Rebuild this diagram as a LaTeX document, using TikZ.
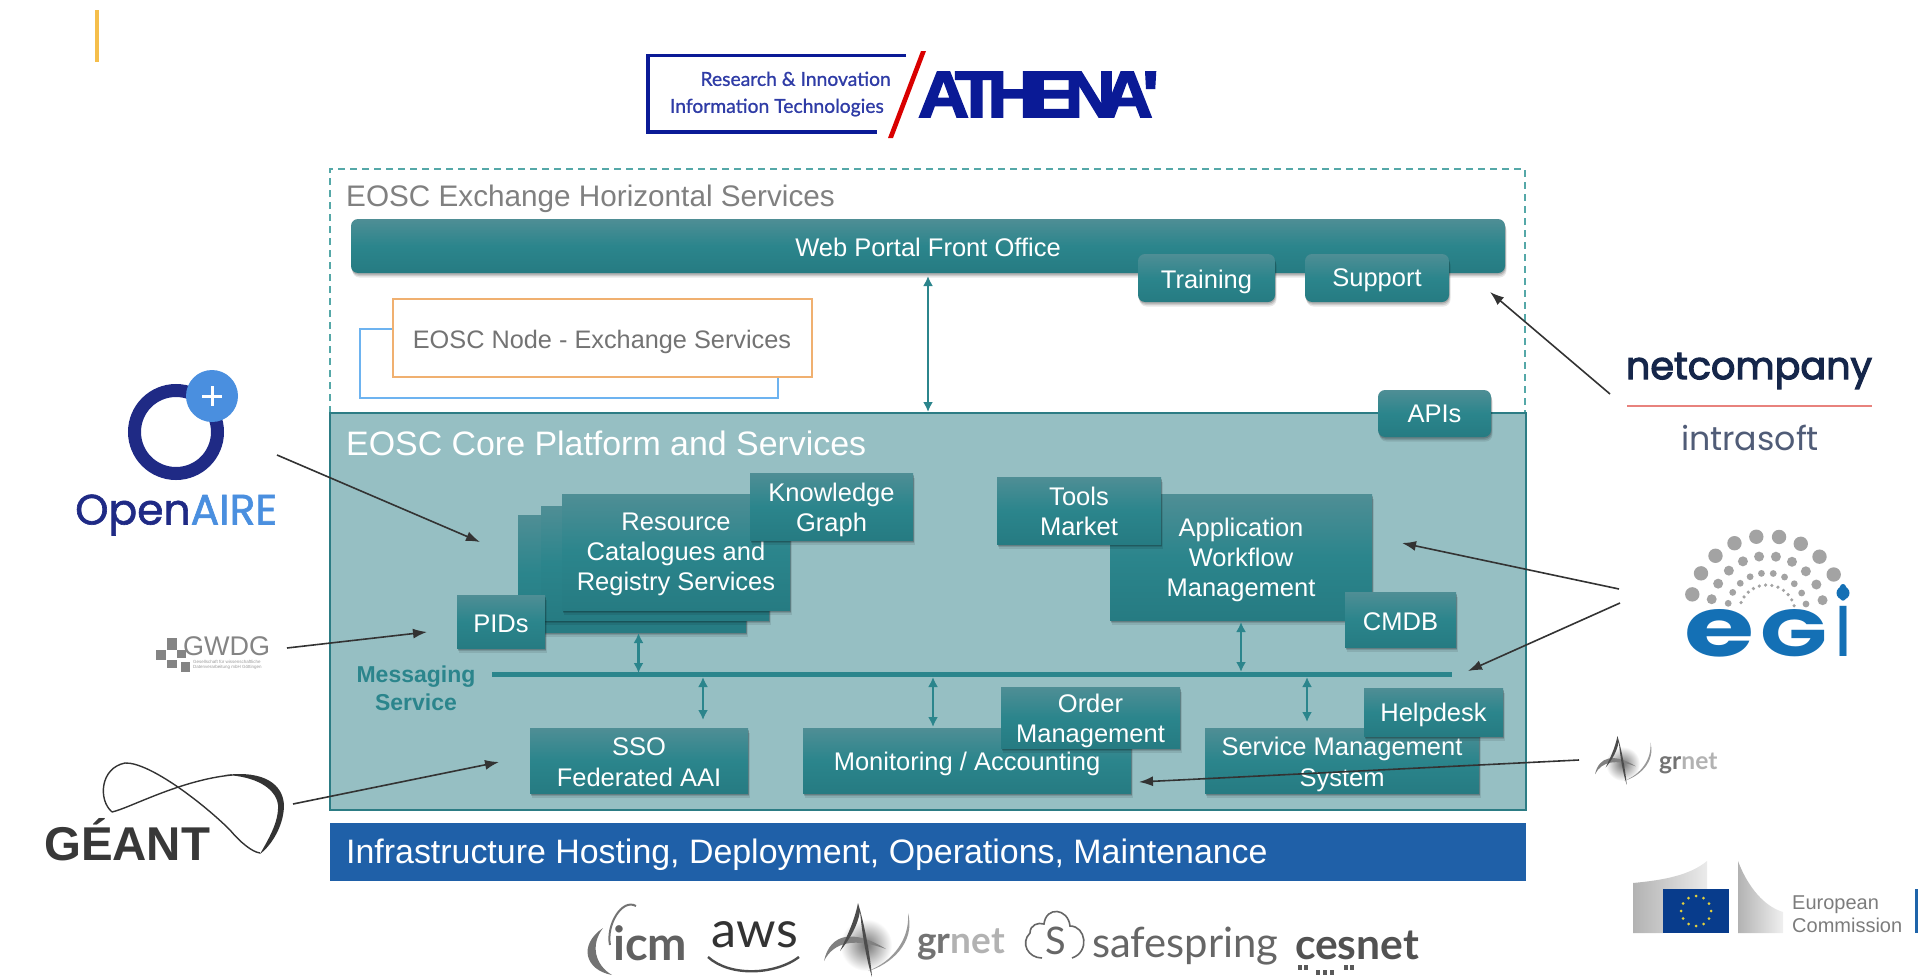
\documentclass[tikz,border=0pt]{standalone}
\usepackage{fontspec}
\usepackage{graphicx}
\setmainfont{Liberation Sans}
\newfontfamily\pop{Poppins}
\newfontfamily\popm[FakeBold=1.5]{Poppins}
\newfontfamily\popn[FakeBold=3]{Poppins}
\newfontfamily\lat{Lato}
\newfontfamily\latm[FakeBold=1]{Lato}
\newfontfamily\athf[FakeBold=2.5]{Liberation Sans Bold}
\usetikzlibrary{arrows.meta,calc}
\definecolor{tealtop}{HTML}{4F8E95}
\definecolor{tealmid}{HTML}{2B858C}
\definecolor{tealbot}{HTML}{267B82}
\definecolor{coreblue}{HTML}{96BFC3}
\definecolor{coreedge}{HTML}{2C7C84}
\definecolor{dashteal}{HTML}{55A8A8}
\definecolor{infrablue}{HTML}{1F60A8}
\definecolor{athblue}{HTML}{0A1A96}
\definecolor{oaNavy}{HTML}{1F2A85}
\definecolor{oaBlue}{HTML}{4A8FDF}
\definecolor{egiBlue}{HTML}{1470B5}
\definecolor{egiGrey}{HTML}{A3A3A3}
\definecolor{ncNavy}{HTML}{15264A}
\definecolor{logoGrey}{HTML}{6E6E6E}
\tikzset{
  softshadow/.style={
    preaction={fill=black,opacity=.09,transform canvas={xshift=1.5pt,yshift=-4.5pt}},
    preaction={fill=black,opacity=.12,transform canvas={xshift=1pt,yshift=-3pt}},
    preaction={fill=black,opacity=.16,transform canvas={xshift=.5pt,yshift=-1.5pt}}},
  tealbox/.style={rectangle,inner sep=0pt,softshadow,
    top color=tealtop,bottom color=tealbot,middle color=tealmid},
  roundbox/.style={tealbox,rounded corners=7pt},
  boxtext/.style={inner sep=0pt,align=center,text=white,font=\fontsize{25.5}{30}\selectfont},
  teallink/.style={draw=tealmid,line width=2.2pt,{Latex[length=10pt,width=10pt]}-{Latex[length=10pt,width=10pt]}},
  partner/.style={draw=black!80,line width=1.6pt,-{Latex[length=14pt,width=10pt]}},
  label/.style={inner sep=0pt,anchor=center,align=center},
}
% plain box by corners: name, x1, y1, x2, y2, style
\newcommand{\bxe}[6]{\node[#6,minimum width={(#4-#2)*1pt},minimum height={(#5-#3)*1pt}] (#1) at ({(#2+#4)/2},{(#3+#5)/2}) {};}
% box with text: [text drop], name, x1, y1, x2, y2, style, text
\newcommand{\bx}[8][2.5]{\bxe{#2}{#3}{#4}{#5}{#6}{#7}\node[boxtext] (#2t) at ({(#3+#5)/2},{(#4+#6)/2+#1}) {#8};}
\tikzset{pics/grnetmark/.style={code={
  \shade[inner color=black!55,outer color=white] (42,42) circle (26);
  \fill[black!50] (0,58) .. controls (6,30) and (30,26) .. (62,46) .. controls (32,35) and (10,38) .. (0,58) -- cycle;
  \fill[black!70] (34,0) .. controls (30,20) and (22,35) .. (16,48) .. controls (26,36) and (34,22) .. (36,8) .. controls (38,30) and (42,55) .. (48,74) .. controls (46,50) and (40,20) .. (34,0) -- cycle;
  \fill[black!40] (84,10) .. controls (86,35) and (70,58) .. (44,68) .. controls (66,62) and (92,40) .. (84,10) -- cycle;
}}}
\begin{document}
\begin{tikzpicture}[x=1pt,y=-1pt]
\useasboundingbox (0,0) rectangle (1931,977);
% corner accent
\fill[color={rgb,255:red,245;green,190;blue,75}] (94.5,10) rectangle (98.5,62);
% ATHENA logo
\draw[athblue,line width=3.5pt] (906,55.5) -- (648,55.5) -- (648,132) -- (877,132);
\fill[red!85!black] (921,51) -- (926,51) -- (893,138) -- (888,138) -- cycle;
\node[label,text=athblue] (athena) at (1038.5,94.5) {\resizebox{241pt}{45pt}{\athf A\kern-2ptT\kern-1.5ptH\kern-1.5ptE\kern-1.5ptN\kern-2ptA\kern-1.5pt'}};
\node[label,text=athblue!85,font=\fontsize{19.3}{26}\selectfont\latm,align=right,anchor=east] (athtext) at (891,94) {Research \& Innovation\\[1pt]Information Technologies\kern 7pt};
% Exchange services
\draw[dashteal,line width=1.6pt,dash pattern=on 7pt off 5pt] (330,413) -- (330,169) -- (1525,169) -- (1525,413);
\node[label,anchor=west,text=black!50,font=\fontsize{29.7}{34}\selectfont] (extitle) at (346,199) {EOSC Exchange Horizontal Services};
\bx[1]{web}{351}{219}{1505}{273}{roundbox}{Web Portal Front Office}
\bx[3.7]{training}{1138}{254}{1275}{302}{roundbox}{Training}
\bx[2.5]{support}{1305}{254}{1449}{302}{roundbox}{Support}
\draw[draw={rgb,255:red,109;green,179;blue,240},line width=1.8pt,fill=white] (360,329) rectangle (778,398);
\node[draw={rgb,255:red,240;green,176;blue,112},line width=1.8pt,fill=white,minimum width=419pt,minimum height=78pt,inner sep=0pt] (node) at (602.5,338) {};
\node[label,text=black!55,font=\fontsize{25.3}{30}\selectfont] (nodet) at (602,342) {EOSC Node - Exchange Services};
% Core platform
\bxe{core}{330}{413}{1526}{810}{draw=coreedge,line width=1.6pt,fill=coreblue,inner sep=0pt}
\node[label,anchor=west,text=white,font=\fontsize{33.9}{38}\selectfont] (coretitle) at (346,443) {EOSC Core Platform and Services};
\bx[0]{apis}{1378}{390}{1491}{437}{roundbox}{APIs}
% Resource stack
\bxe{resC}{518}{515}{746}{632}{tealbox}
\bxe{resB}{541}{506}{769}{620}{tealbox}
\bx[2.5]{res}{562}{494}{790}{610}{tealbox}{Resource\\Catalogues and\\Registry Services}
\bx[3]{kg}{750}{473}{913}{540}{tealbox}{Knowledge\\Graph}
\bx[2.5]{pids}{457}{595}{545}{648}{tealbox}{PIDs}
\bx[3]{awm}{1110}{494}{1372}{620}{tealbox}{Application\\Workflow\\Management}
\bx[1]{tools}{997}{477}{1161}{544}{tealbox}{Tools\\Market}
\bx[2.5]{cmdb}{1345}{592}{1456}{647}{tealbox}{CMDB}
\bx[1.5]{sso}{530}{728}{748}{793}{tealbox}{SSO\\[1pt]Federated AAI}
\bx[3.7]{mon}{803}{728}{1131}{793}{tealbox}{Monitoring / Accounting}
\bx[3.7]{order}{1001}{687}{1180}{748}{tealbox}{Order\\Management}
\bx[4]{sms}{1205}{728}{1479}{793}{tealbox}{Service Management\\[1pt]System}
\bx[3]{help}{1364}{688}{1503}{736}{tealbox}{Helpdesk}
% Messaging bus
\node[label,text=tealmid,font=\bfseries\fontsize{23}{28}\selectfont] (msg) at (416,688) {Messaging\\Service};
\coordinate (busL) at (492,674);
\coordinate (busR) at (1452,674);
\draw[tealmid,line width=5pt] (busL) -- (busR);
% Teal double arrows
\coordinate (a1t) at (928,276); \coordinate (a1b) at (928,412);
\draw[teallink] (a1t) -- (a1b);
\coordinate (a2t) at (638.5,633); \coordinate (a2b) at (638.5,673);
\draw[teallink] (a2t) -- (a2b);
\coordinate (a3t) at (703,677); \coordinate (a3b) at (703,720);
\draw[teallink] (a3t) -- (a3b);
\coordinate (a4t) at (933,677); \coordinate (a4b) at (933,727);
\draw[teallink] (a4t) -- (a4b);
\coordinate (a5t) at (1241,622); \coordinate (a5b) at (1241,672);
\draw[teallink] (a5t) -- (a5b);
\coordinate (a6t) at (1307,677); \coordinate (a6b) at (1307,722);
\draw[teallink] (a6t) -- (a6b);
% Infrastructure bar
\bxe{infra}{330}{823}{1526}{881}{rectangle,inner sep=0pt,fill=infrablue}
\node[label,anchor=west,text=white,font=\fontsize{33.9}{38}\selectfont] (infratext) at (346,855) {Infrastructure Hosting, Deployment, Operations, Maintenance};
% OpenAIRE logo
\coordinate (oaC) at (176,432);
\draw[oaNavy,line width=13pt] (oaC) circle (41.5);
\fill[oaBlue] (212,396) circle (26);
\fill[white] (202,394.5) rectangle (222,397.5);
\fill[white] (210.5,386) rectangle (213.5,406);
\node[label,anchor=west] (openaire) at (75,515) {\resizebox{202pt}{!}{\popm\textcolor{oaNavy}{Open}\textcolor{oaBlue}{AIRE}}};
% GWDG logo
\begin{scope}[logoGrey!85]
\fill (156,650) rectangle (166,660);
\fill (167,638) rectangle (177,650);
\fill (177,650) rectangle (186,658);
\fill (167,660) rectangle (177,668);
\fill (181,662) rectangle (190,672);
\end{scope}
\node[label,anchor=west,text=logoGrey!85,font=\fontsize{27}{30}\selectfont] (gwdg) at (183,646) {GWDG};
\node[label,anchor=west,text=black!40,font=\fontsize{4.5}{5.5}\selectfont,align=left] (gwdgsub) at (193,665) {Gesellschaft für wissenschaftliche\\Datenverarbeitung mbH Göttingen};
% GEANT logo
\draw[black!80,line width=1.4pt] (112,812) .. controls (98,800) and (100,768) .. (125,763) .. controls (150,762) and (205,805) .. (230,830) .. controls (240,842) and (252,852) .. (260,853);
\draw[black!80,line width=1.4pt] (112,812) .. controls (130,808) and (180,780) .. (232,775);
\fill[black!80] (225,775) .. controls (265,770) and (283,785) .. (284,805) .. controls (284,825) and (272,845) .. (260,854) .. controls (268,840) and (279,822) .. (278,805) .. controls (276,788) and (255,776) .. (225,775) -- cycle;
\node[label,anchor=west,text=black!78,font=\bfseries] (geant) at (44,840) {\resizebox{166pt}{!}{G\'EANT}};
% netcompany / intrasoft
\node[label,text=ncNavy,font=\popn] (netc) at (1749,371) {\resizebox{246pt}{!}{netcompany}};
\draw[color={rgb,255:red,232;green,130;blue,125},line width=1.6pt] (1627,406) -- (1872,406);
\node[label,text=ncNavy!75,font=\pop] (intra) at (1750,438) {\resizebox{138pt}{!}{intrasoft}};
% EGI logo
\foreach \a in {30,47,...,170} \fill[egiGrey] ($(1767,613)+(\a:77 and -77)$) circle (7.2);
\foreach \a in {13,30,...,170} \fill[egiGrey] ($(1767,613)+(\a:57 and -57)$) circle (5);
\foreach \a in {13,30,...,170} \fill[egiGrey] ($(1767,613)+(\a:40 and -40)$) circle (3.4);
\foreach \a in {15,28,...,170} \fill[egiGrey] ($(1767,613)+(\a:28 and -28)$) circle (1.8);
\node[label,anchor=south west,text=egiBlue,font=\bfseries\pop] (egi) at (1684,657) {\resizebox{70pt}{47pt}{e}\kern 6pt\resizebox{67pt}{47pt}{G}\kern 10pt\resizebox{12pt}{72pt}{i}};
\fill[egiBlue] (1843,593) circle (6.5);
% EC logo
\shade[left color=black!30,right color=black!8] (1633,883) .. controls (1665,880) and (1690,875) .. (1707,861) -- (1707,889) -- (1663,889) -- (1663,933) -- (1633,933) -- cycle;
\fill[color={rgb,255:red,8;green,60;blue,140}] (1663,889) rectangle (1729,933);
\foreach \a in {0,30,...,330} \fill[color={rgb,255:red,230;green,210;blue,60}] ($(1696,911)+(\a:15)$) circle (1.5);
\shade[left color=black!30,right color=black!6] (1738,861) .. controls (1745,880) and (1760,905) .. (1783,912) -- (1783,933) -- (1738,933) -- cycle;
\node[label,anchor=west,text=logoGrey!90,font=\fontsize{20}{23}\selectfont,align=left] (ec) at (1792,914) {European\\Commission};
\fill[color={rgb,255:red,30;green,100;blue,170}] (1915,889) rectangle (1918,933);
% grnet small
\pic[scale=.66] at (1595,736) {grnetmark};
\node[label,anchor=west,font=\bfseries\fontsize{24.6}{28}\selectfont\lat] (grnetA) at (1659,763) {\textcolor{black!55}{gr}\textcolor{black!30}{net}};
% Bottom logos
\node[label,anchor=west,text=black!62,font=\bfseries\lat] (icm) at (613,943) {\resizebox{74pt}{!}{icm}};
\draw[black!55,line width=2pt] (636,906) .. controls (622,898) and (606,925) .. (610,945);
\fill[black!55] (603,928) .. controls (578,945) and (585,970) .. (612,975) .. controls (595,965) and (590,945) .. (603,928) -- cycle;
\node[label,text=black!80,font=\lat] (aws) at (755,935) {\resizebox{86pt}{!}{aws}};
\coordinate (smileL) at (708,957); \coordinate (smileR) at (799,957);
\draw[black!70,line width=2.4pt] (smileL) .. controls (730,977) and (775,975) .. (smileR);
\pic[scale=1] at (824,903) {grnetmark};
\node[label,anchor=west,font=\bfseries\fontsize{37}{42}\selectfont\lat] (grnetB) at (917,944) {\textcolor{black!55}{gr}\textcolor{black!30}{net}};
\draw[black!60,line width=1.6pt] (1042,958) .. controls (1028,958) and (1020,943) .. (1030,933) .. controls (1030,925) and (1038,922) .. (1044,924) .. controls (1046,906) and (1068,908) .. (1070,926) .. controls (1086,926) and (1090,952) .. (1072,958);
\node[label,text=black!60,font=\fontsize{38}{42}\selectfont\lat] (safeS) at (1056,941) {S};
\node[label,anchor=west,text=black!60,font=\fontsize{41.8}{46}\selectfont\lat] (safe) at (1092,946) {safespring};
\node[label,text=black!68,font=\bfseries\lat] (cesnet) at (1357,945) {\resizebox{124pt}{!}{cesnet}};
\foreach \x/\y in {1298/965,1304/965,1316/970,1323/970,1330/970,1344/965,1350/965} \fill[black!65] (\x,\y) rectangle ++(3.5,4.5);
% Partner arrows
\coordinate (oa1) at (277,455); \coordinate (oa2) at (480,542);
\draw[partner] (oa1) -- (oa2);
\coordinate (gw1) at (287,648); \coordinate (gw2) at (427,632);
\draw[partner] (gw1) -- (gw2);
\coordinate (ge1) at (293,804); \coordinate (ge2) at (499,762);
\draw[partner] (ge1) -- (ge2);
\coordinate (nc1) at (1610,394); \coordinate (nc2) at (1490,292);
\draw[partner] (nc1) -- (nc2);
\coordinate (eg1) at (1619,589); \coordinate (eg2) at (1402,543);
\draw[partner] (eg1) -- (eg2);
\coordinate (eg3) at (1620,603); \coordinate (eg4) at (1468,671);
\draw[partner] (eg3) -- (eg4);
\coordinate (gr1) at (1579,760); \coordinate (gr2) at (1139,782);
\draw[partner] (gr1) -- (gr2);
\end{tikzpicture}
\end{document}
